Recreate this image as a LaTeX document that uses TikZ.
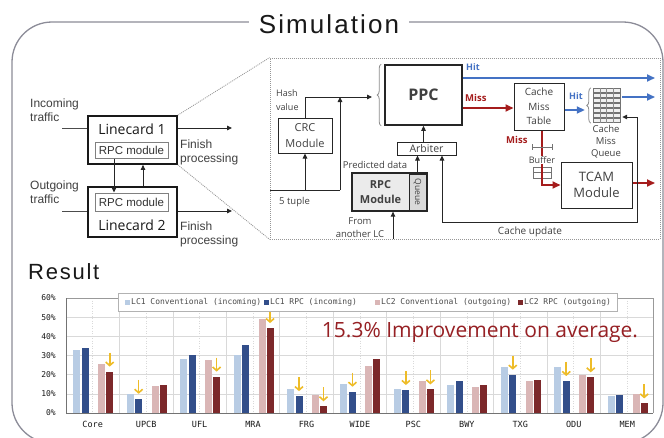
\documentclass[tikz,border=0pt]{standalone}
\usepackage{fontspec}
\setmainfont{Liberation Sans}
\newfontfamily\osans{Open Sans}
\newfontfamily\dmono{DejaVu Sans Mono}
\newfontfamily\ttlfont{Liberation Sans}[LetterSpace=8]
\usetikzlibrary{arrows.meta,decorations.pathreplacing,calc}

\definecolor{framegray}{RGB}{140,140,152}
\definecolor{txtgray}{RGB}{64,64,64}
\definecolor{hitblue}{RGB}{68,114,196}
\definecolor{missred}{RGB}{165,28,28}
\definecolor{lblue}{RGB}{184,204,228}
\definecolor{dblue}{RGB}{50,78,138}
\definecolor{lpink}{RGB}{218,182,182}
\definecolor{dred}{RGB}{124,40,42}
\definecolor{arrowgold}{RGB}{238,188,40}
\definecolor{improv}{RGB}{150,32,36}
\definecolor{gridgray}{RGB}{217,217,217}
\definecolor{dotgray}{RGB}{150,150,150}

\begin{document}
\begin{tikzpicture}[x=1pt,y=-1pt,
  box/.style={draw=black!85, line width=1pt, inner sep=0pt, align=center,
    text=txtgray, font=\osans\fontsize{11}{15.5}\selectfont},
  thickbox/.style={box, line width=1.6pt},
  lcbox/.style={draw=black!90, line width=1.7pt, inner sep=0pt},
  inbox/.style={draw=black!50, line width=1pt, inner sep=0pt,
    font=\fontsize{11.5}{13}\selectfont, text=black!80},
  conn/.style={draw=black!85, line width=0.9pt, -{Triangle[length=5pt,width=4.5pt]}},
  plainline/.style={draw=black!85, line width=0.9pt},
  hitarrow/.style={draw=hitblue, line width=1.8pt, -{Triangle[length=8pt,width=7pt]}},
  missarrow/.style={draw=missred, line width=1.8pt, -{Triangle[length=8pt,width=7pt]}},
  side/.style={font=\fontsize{12}{14}\selectfont, text=black!75, align=left, inner sep=0pt},
  lbl/.style={font=\osans\fontsize{9.5}{12.5}\selectfont, text=txtgray, inner sep=0pt, align=center},
  hitlbl/.style={font=\osans\bfseries\fontsize{9}{10}\selectfont, text=hitblue, inner sep=0pt},
  misslbl/.style={font=\osans\bfseries\fontsize{9.5}{10}\selectfont, text=missred, inner sep=0pt},
  zoomline/.style={draw=dotgray, line width=0.8pt, dash pattern=on 1pt off 1pt},
  lbrace/.style={decorate, decoration={brace, amplitude=4pt}, draw=black!45, line width=0.8pt},
  gold/.style={draw=arrowgold, line width=1.6pt, -{Straight Barb[length=3.5pt,width=8pt]}},
  catlbl/.style={font=\dmono\fontsize{8.5}{10}\selectfont, text=black!90, inner sep=0pt},
  ylbl/.style={font=\dmono\fontsize{8}{10}\selectfont, text=black!90, inner sep=0pt, anchor=east},
  leglbl/.style={font=\dmono\fontsize{8}{10}\selectfont, text=black!70, inner sep=0pt, anchor=west}
]
\useasboundingbox (0,0) rectangle (664,437);
\fill[white] (0,0) rectangle (664,437);

% outer rounded frame and heading
\draw[framegray, line width=1.3pt, rounded corners=40pt] (12,22) rectangle (663,443);
\node[fill=white, inner xsep=10pt, inner ysep=2pt, anchor=base,
  font=\ttlfont\fontsize{26}{28}\selectfont, text=black!90] (title) at (329,33) {Simulation};

% ---------------- line cards ----------------
\node[lcbox, minimum width=89pt, minimum height=48pt] (lc1) at (132.5,140) {};
\node[font=\osans\fontsize{14}{16}\selectfont, text=black!90, inner sep=0pt] (lc1t) at (132,129) {Linecard 1};
\node[inbox, minimum width=73pt, minimum height=16pt] (rpc1) at (131.5,150) {RPC module};

\node[lcbox, minimum width=89pt, minimum height=50pt] (lc2) at (132.5,212) {};
\node[font=\osans\fontsize{14}{16}\selectfont, text=black!90, inner sep=0pt] (lc2t) at (132,225) {Linecard 2};
\node[inbox, minimum width=73pt, minimum height=18pt] (rpc2) at (131.5,202) {RPC module};

\coordinate (dn) at (114,0);
\coordinate (up) at (143,0);
\draw[conn] (rpc1.south -| dn) -- (rpc2.north -| dn);
\draw[conn] (lc2.north -| up) -- (lc1.south -| up);

\coordinate (in1) at (62,128);
\coordinate (fin1) at (232,128);
\coordinate (in2) at (62,211);
\coordinate (fin2) at (232,211);
\draw[plainline, black!70] (in1) -- (in1 -| lc1.west);
\draw[conn] (fin1 -| lc1.east) -- (fin1);
\draw[plainline, black!70] (in2) -- (in2 -| lc2.west);
\draw[conn] (fin2 -| lc2.east) -- (fin2);

\node[side, anchor=west] (intxt) at (30,110) {Incoming\\traffic};
\node[side, anchor=west] (outtxt) at (30,192.5) {Outgoing\\traffic};
\node[side, anchor=west, font=\fontsize{12}{13.5}\selectfont] (fp1) at (180,152.5) {Finish\\processing};
\node[side, anchor=west, font=\fontsize{12}{13.5}\selectfont] (fp2) at (180,234.5) {Finish\\processing};

% ---------------- zoomed detail ----------------
\node[zoomline, draw, minimum width=390pt, minimum height=181pt, inner sep=0pt] (zf) at (465,148.5) {};
\draw[zoomline] (lc1.north east) -- (zf.north west);
\draw[zoomline] (lc1.south east) -- (zf.south west);

\node[thickbox, minimum width=77pt, minimum height=60pt,
  font=\osans\bfseries\fontsize{16}{18}\selectfont] (ppc) at (423.5,95) {PPC};
\draw[lbrace] ($(ppc.south west)+(-3,0)$) -- ($(ppc.north west)+(-3,0)$);

\node[box, minimum width=54pt, minimum height=35pt] (crc) at (305,135.5) {CRC\\Module};
\node[box, minimum width=59pt, minimum height=13pt, font=\osans\fontsize{10.5}{12}\selectfont] (arb) at (426.5,148.5) {Arbiter};
\node[box, line width=1.3pt, fill=black!8, minimum width=75pt, minimum height=38pt] (rpcm) at (389.5,192) {};
\node[box, fill=black!15, line width=0.7pt, minimum width=17pt, minimum height=36pt] (queue) at (417.5,192) {};
\node[rotate=-90, font=\osans\fontsize{8.5}{10}\selectfont, text=txtgray, inner sep=0pt] (queuet) at (queue) {Queue};
\node[font=\osans\bfseries\fontsize{11}{15}\selectfont, text=txtgray, align=center, inner sep=0pt] (rpcmt) at (380.5,192) {RPC\\Module};

\node[box, minimum width=50pt, minimum height=47pt, font=\osans\fontsize{10}{14.3}\selectfont] (cmt) at (539,106.5) {Cache\\Miss\\Table};
\node[box, minimum width=71pt, minimum height=46pt, font=\osans\fontsize{13}{16}\selectfont] (tcam) at (596.5,185) {TCAM\\Module};

% cache miss queue (stacked entries)
\node[minimum width=27pt, minimum height=35pt, inner sep=0pt] (cmq) at (606.5,105.5) {};
\foreach \r in {0,...,6}{
  \draw[black!55, line width=0.6pt, fill=black!6] (593,{88+5*\r}) rectangle (620,{92.5+5*\r});
  \foreach \k in {1,2,3}{
    \draw[black!45, line width=0.4pt] ({593+6.75*\k},{88+5*\r}) -- ({593+6.75*\k},{92.5+5*\r});
  }
}
\draw[lbrace] ($(cmq.south west)+(-2,0)$) -- ($(cmq.north west)+(-2,0)$);
\node[lbl, font=\osans\fontsize{9.5}{12}\selectfont] (cmqt) at (606,142) {Cache\\Miss\\Queue};

% inputs to PPC
\coordinate (hashR) at (372,97);
\coordinate (tupL) at (270,190);
\coordinate (tupR) at (340,190);
\draw[conn] (crc.north) |- (hashR);
\draw[plainline] (tupL) -- (tupR);
\draw[conn] (tupR) -- (tupR |- hashR);
\draw[conn] (crc.south |- tupL) -- (crc.south);
\node[lbl, anchor=west, align=left, font=\osans\fontsize{9}{14}\selectfont] (hasht) at (276,100) {Hash\\value};
\node[lbl, anchor=west] (tuplet) at (279,202) {5 tuple};

\draw[conn] (arb.north -| ppc.south) -- (ppc.south);
\draw[conn] (queue.north) -- (queue.north |- arb.south);
\node[lbl] (predt) at (375,165) {Predicted data};
\coordinate (fromlc) at (393,239);
\draw[conn] (fromlc) -- (fromlc |- rpcm.south);
\node[lbl, font=\osans\fontsize{9.5}{12.5}\selectfont] (fromt) at (360,227.5) {From\\another LC};

% hit / miss paths
\coordinate (hitE) at (655,78);
\draw[hitarrow] (hitE -| ppc.east) -- (hitE);
\node[hitlbl, anchor=west] (hit1) at (466,67) {Hit};
\coordinate (missY) at (0,108);
\draw[missarrow] (missY -| ppc.east) -- (missY -| cmt.west);
\node[misslbl, anchor=west] (miss1) at (465,98) {Miss};

\coordinate (hit2Y) at (0,110);
\draw[hitarrow] (hit2Y -| cmt.east) -- ($(hit2Y -| cmq.west)+(-8,0)$);
\node[hitlbl, anchor=west] (hit2) at (569,96) {Hit};
\coordinate (qout) at (655,97);
\draw[hitarrow] ($(qout -| cmq.east)+(2,0)$) -- (qout);

\coordinate (bufx) at (542,0);
\coordinate (tcamY) at (0,185);
\draw[missarrow] (cmt.south -| bufx) -- (tcamY -| bufx) -- (tcamY -| tcam.west);
\node[misslbl, anchor=west] (miss2) at (506,140) {Miss};
\draw[black!55, line width=0.7pt] (532,147) -- (552,147);
\draw[black!55, line width=0.7pt] (532,144) -- (532,150) (552,144) -- (552,150);
\node[lbl, fill=white, inner sep=0.5pt, font=\osans\fontsize{9}{10}\selectfont] (buft) at (542,160) {Buffer};
\draw[black!55, line width=0.7pt] (533,167) rectangle (551,178);
\draw[black!55, line width=0.7pt] (533,172.5) -- (551,172.5);
\draw[draw=missred, line width=1.8pt] (542,166) -- (542,179);

\coordinate (tcamOut) at (655,183);
\draw[missarrow] (tcamOut -| tcam.east) -- (tcamOut);

% cache update feedback
\coordinate (cuR) at (637,222);
\coordinate (cuL) at (442,222);
\draw[draw=black!85, line width=0.9pt, {Triangle[length=5pt,width=4.5pt]}-{Triangle[length=5pt,width=4.5pt]}]
  ($(cmq.east)+(2,11.5)$) -| (cuR) -- (cuL) -- (cuL |- arb.south);
\node[lbl, font=\osans\fontsize{10}{12}\selectfont] (cut) at (530,232) {Cache update};

% ---------------- result chart ----------------
\node[anchor=base west, font=\ttlfont\fontsize{22}{24}\selectfont, text=black!90, inner sep=0pt] (restitle) at (28,279) {Result};

% grid
\foreach \v in {1,...,5}{
  \draw[gridgray, line width=0.6pt] (66,{413-19.17*\v}) -- (653,{413-19.17*\v});
}
\foreach \k in {1,...,10}{
  \draw[gridgray, line width=0.7pt] ({66+53.45*\k},298) -- ({66+53.45*\k},413);
}
\foreach \k in {0,...,10}{
  \draw[gridgray, line width=0.6pt, dash pattern=on 1pt off 1.5pt] ({92.7+53.45*\k},298) -- ({92.7+53.45*\k},413);
}
\draw[black!40, line width=0.7pt] (66,298) -- (653,298) -- (653,413);
\draw[black!55, line width=0.9pt] (66,298) -- (66,413) -- (653,413);

\foreach \v/\t in {0/0\%,1/10\%,2/20\%,3/30\%,4/40\%,5/50\%,6/60\%}{
  \node[ylbl] (yl\v) at (56,{413-19.17*\v}) {\t};
}

% bars: LC1 conv, LC1 RPC, LC2 conv, LC2 RPC; flags mark improved bars
\foreach \lab/\va/\vb/\vc/\vd/\fb/\fd [count=\i from 0] in {
  Core/33/34/25.8/21.6/0/1, UPCB/10/7.4/14.2/14.7/1/0, UFL/28.4/30/27.4/19/0/1,
  MRA/30.4/35.6/49/44.3/0/1, FRG/12.4/8.8/9.5/3.5/1/1, WIDE/15.1/11.1/24.6/28.2/1/0,
  PSC/12.7/12/16.5/12.3/1/1, BWY/14.6/16.5/13.4/14.6/0/0, TXG/24/20/16.7/17.2/1/0,
  ODU/24/16.7/20/18.6/1/1, MEM/8.9/9.2/9.9/5/0/1}{
  \pgfmathsetmacro{\cx}{92.7+\i*53.45}
  \pgfmathsetmacro{\ya}{413-1.917*\va}
  \pgfmathsetmacro{\yb}{413-1.917*\vb}
  \pgfmathsetmacro{\yc}{413-1.917*\vc}
  \pgfmathsetmacro{\yd}{413-1.917*\vd}
  \fill[lblue] ({\cx-19.5},413) rectangle ({\cx-12.5},\ya);
  \fill[dblue] ({\cx-11},413) rectangle ({\cx-4},\yb);
  \fill[lpink] ({\cx+5.5},413) rectangle ({\cx+12.5},\yc);
  \fill[dred] ({\cx+13.5},413) rectangle ({\cx+20.5},\yd);
  \ifnum\fb=1 \draw[gold] ({\cx-7.5},{\yb-19}) -- ({\cx-7.5},{\yb-5}); \fi
  \ifnum\fd=1 \draw[gold] ({\cx+17},{\yd-19}) -- ({\cx+17},{\yd-5}); \fi
  \node[catlbl] (cat\i) at (\cx,424) {\lab};
}

% legend
\draw[black!30, fill=white, line width=0.7pt] (118,293) rectangle (617,311);
\fill[lblue] (125,300) rectangle (130,305);
\node[leglbl] (lg1) at (131,302.5) {LC1 Conventional (incoming)};
\fill[dblue] (264,300) rectangle (269,305);
\node[leglbl] (lg2) at (270,302.5) {LC1 RPC (incoming)};
\fill[lpink] (375,300) rectangle (380,305);
\node[leglbl] (lg3) at (381,302.5) {LC2 Conventional (outgoing)};
\fill[dred] (518,300) rectangle (523,305);
\node[leglbl] (lg4) at (524,302.5) {LC2 RPC (outgoing)};

\node[anchor=base, font=\osans\fontsize{21}{23}\selectfont, text=improv, inner sep=0pt] (imp) at (480,337) {15.3\% Improvement on average.};
\end{tikzpicture}
\end{document}
